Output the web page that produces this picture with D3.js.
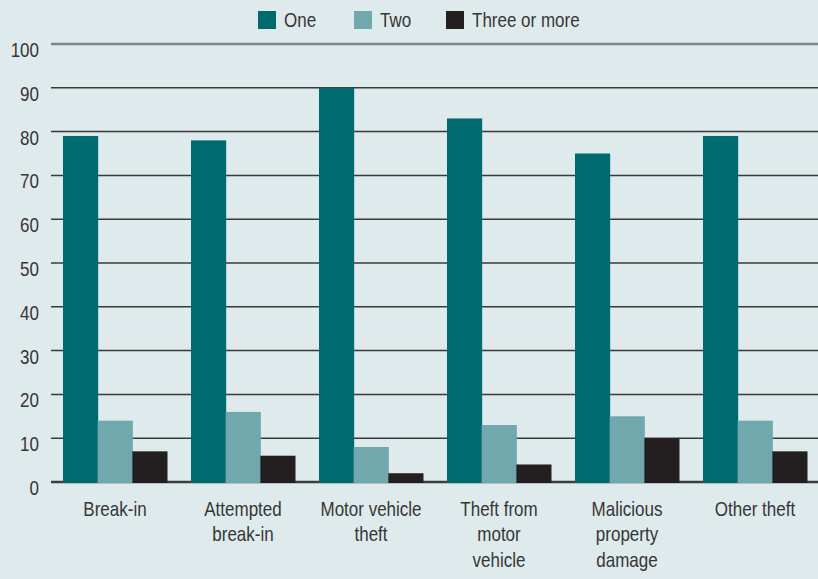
<!DOCTYPE html>
<html><head><meta charset="utf-8">
<script src="https://cdn.jsdelivr.net/npm/d3@7"></script>
<style>
html,body{margin:0;padding:0;background:#dfeaec;}
text{font-family:"Liberation Sans",Arial,sans-serif;fill:#363636;}
</style></head>
<body><svg id="c" width="818" height="579"></svg>
<script>
const categories = [["Break-in"],["Attempted","break-in"],["Motor vehicle","theft"],["Theft from","motor","vehicle"],["Malicious","property","damage"],["Other theft"]];
const seriesNames = ["One","Two","Three or more"];
const one = [79,78,90,83,75,79];
const two = [14,16,8,13,15,14];
const threeMore = [7,6,2,4,10,7];
const yTicks = [0,10,20,30,40,50,60,70,80,90,100];
const colors = ["#006b6f","#71a8ad","#231f20"];

const series = [one,two,threeMore];
const SX = 0.85, FS = 20;
const svg = d3.select("#c");
const W=818,H=579;
svg.append("rect").attr("width",W).attr("height",H).attr("fill","#dfeaec");
const x0 = d3.scaleBand().domain(d3.range(categories.length)).range([51,819]).paddingInner(0.1875).paddingOuter(0.09375);
const x1 = d3.scaleBand().domain(d3.range(series.length)).range([0,x0.bandwidth()]);
const y = d3.scaleLinear().domain([0,100]).range([482,44]);

// gridlines
svg.append("g").selectAll("line").data(yTicks).join("line")
 .attr("x1",51).attr("x2",W).attr("y1",d=>y(d)).attr("y2",d=>y(d))
 .attr("stroke",d=>d===100?"#7c8587":(d===0?"#3c3c3c":"#3a3a3a"))
 .attr("stroke-width",d=>d===100?2.5:(d===0?2.5:1.5));

// y labels
svg.append("g").selectAll("text").data(yTicks).join("text")
 .attr("transform",d=>`translate(39,${y(d)+13}) scale(${SX},1)`).attr("text-anchor","end")
 .attr("font-size",FS).text(d=>d);

// bars
const g = svg.append("g").selectAll("g").data(categories).join("g")
 .attr("transform",(d,i)=>`translate(${x0(i)},0)`);
g.selectAll("rect").data((d,i)=>series.map((s,j)=>({j,v:s[i]}))).join("rect")
 .attr("x",d=>x1(d.j)).attr("width",x1.bandwidth()+0.5)
 .attr("y",d=>y(d.v)).attr("height",d=>y(0)-y(d.v)+1)
 .attr("fill",d=>colors[d.j]);

// x labels
const xl = svg.append("g").selectAll("text").data(categories).join("text")
 .attr("transform",(d,i)=>`translate(${x0(i)+x0.bandwidth()/2},516) scale(${SX},1)`)
 .attr("text-anchor","middle").attr("font-size",FS);
xl.selectAll("tspan").data(d=>d).join("tspan")
 .attr("x",0).attr("dy",(d,i)=>i===0?0:25.5).text(d=>d);

// legend
const legX=[258,354,446];
const lg = svg.append("g").selectAll("g").data(seriesNames).join("g")
 .attr("transform",(d,i)=>`translate(${legX[i]},11)`);
lg.append("rect").attr("width",18).attr("height",18).attr("fill",(d,i)=>colors[i]);
lg.append("text").attr("transform",`translate(26,16) scale(${SX},1)`).attr("font-size",FS).text(d=>d);
</script></body></html>
